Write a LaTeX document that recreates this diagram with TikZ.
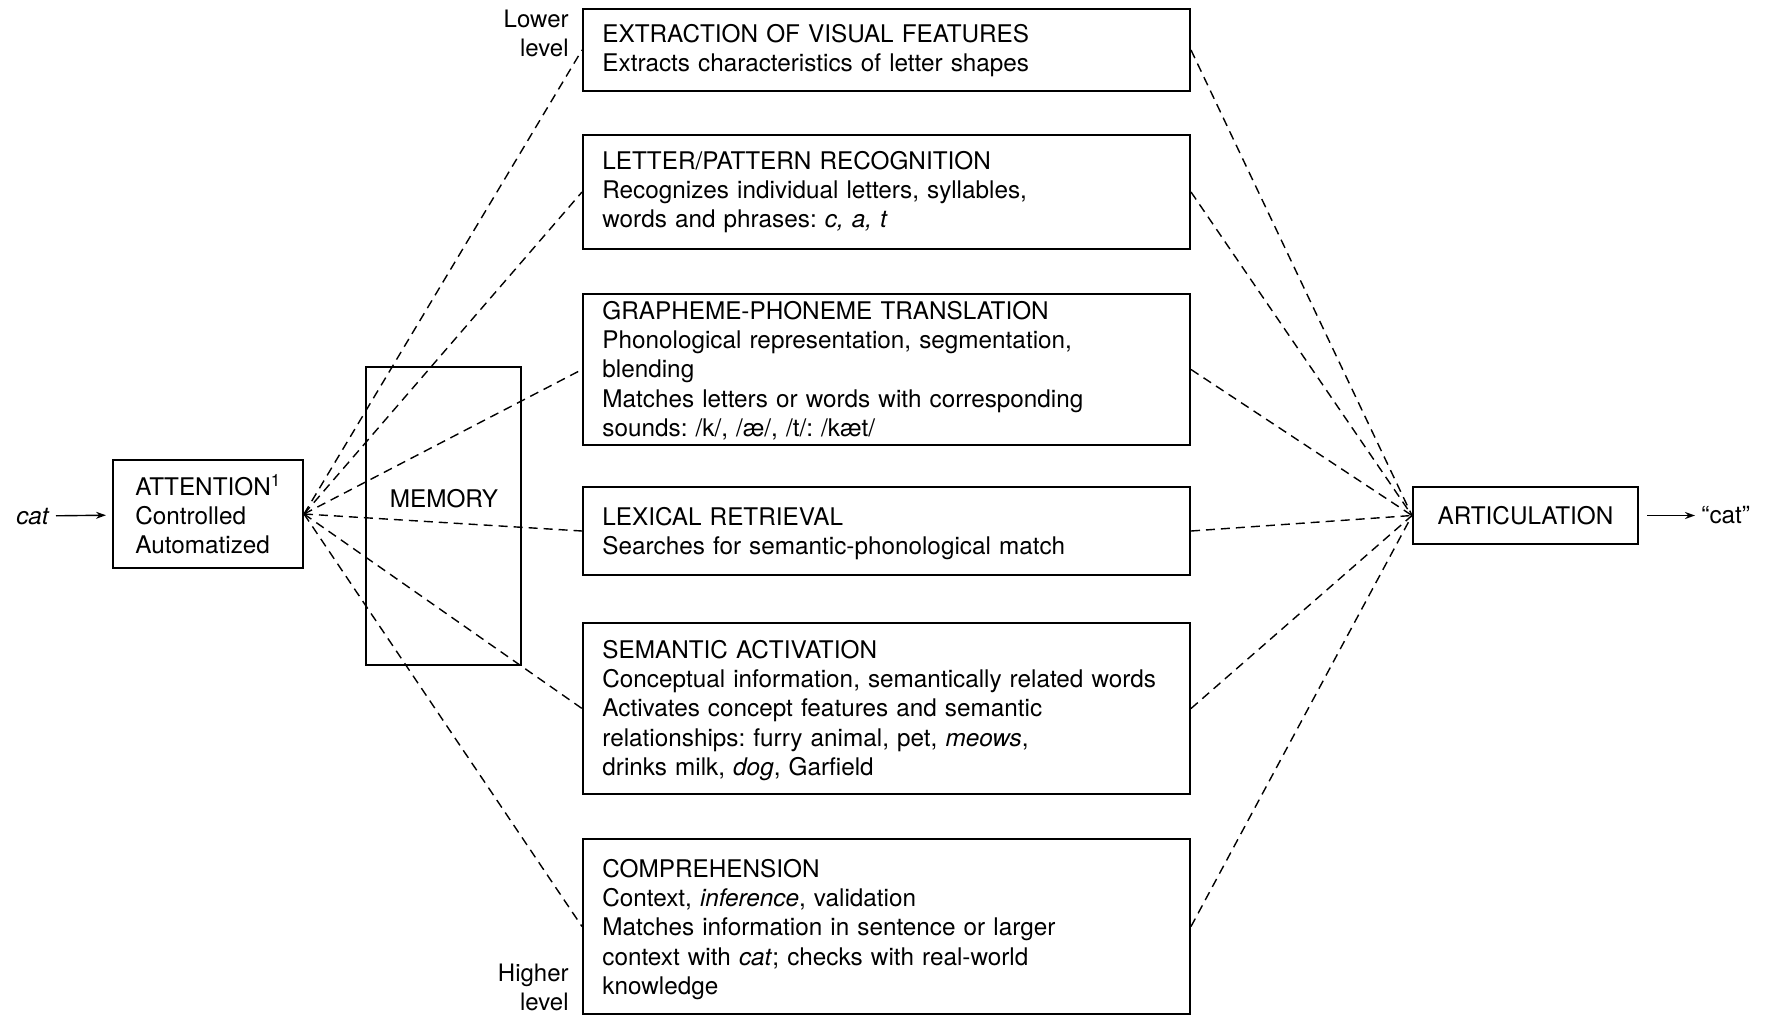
\documentclass[tikz,border=0pt]{standalone}
\usepackage{fontspec}
\setmainfont{TeX Gyre Heros}
\usetikzlibrary{fit,arrows.meta}
\begin{document}
\frenchspacing
\begin{tikzpicture}[x=0.5pt,y=-0.5pt,
  box/.style={draw,line width=1pt,inner sep=0pt},
  txt/.style={font=\fontsize{12.15}{14.6}\selectfont,inner sep=0pt,align=left,text width=290pt,anchor=base west},
  lbl/.style={font=\fontsize{12.15}{14.6}\selectfont,inner sep=0pt},
  side/.style={font=\fontsize{12}{14.5}\selectfont,inner sep=0pt,align=right,text width=40pt,anchor=base east},
  conn/.style={line width=0.7pt,dash pattern=on 4.5pt off 3pt},
  arr/.style={line width=0.7pt,-{Stealth[length=5pt,width=3.5pt]}}]
\useasboundingbox (0,0) rectangle (1765,1017);

% stage boxes
\node[box, fit={(583,9) (1190,91)}] (b1) {};
\node[box, fit={(583,135) (1190,249)}] (b2) {};
\node[box, fit={(583,294) (1190,445)}] (b3) {};
\node[box, fit={(583,487) (1190,575)}] (b4) {};
\node[box, fit={(583,623) (1190,794)}] (b5) {};
\node[box, fit={(583,839) (1190,1014)}] (b6) {};

\node[txt] (t1) at (602,42.5) {EXTRACTION OF VISUAL FEATURES\\Extracts characteristics of letter shapes};
\node[txt] (t2) at (602,169.5) {LETTER/PATTERN RECOGNITION\\Recognizes individual letters, syllables,\\words and phrases: \textit{c, a, t}};
\node[txt] (t3) at (602,319.5) {GRAPHEME-PHONEME TRANSLATION\\Phonological representation, segmentation,\\blending\\Matches letters or words with corresponding\\sounds: /k/, /æ/, /t/: /kæt/};
\node[txt] (t4) at (602,525.5) {LEXICAL RETRIEVAL\\Searches for semantic-phonological match};
\node[txt] (t5) at (602,658.5) {SEMANTIC ACTIVATION\\Conceptual information, semantically related words\\Activates concept features and semantic\\relationships: furry animal, pet, \textit{meows},\\drinks milk, \textit{dog}, Garfield};
\node[txt] (t6) at (602,877.5) {COMPREHENSION\\Context, \textit{inference}, validation\\Matches information in sentence or larger\\context with \textit{cat}; checks with real-world\\knowledge};

\node[side] (lower) at (569,27.5) {Lower\\level};
\node[side] (higher) at (569,981.5) {Higher\\level};

% memory
\node[box, fit={(366,367) (521,665)}] (mem) {};
\node[lbl] (memt) at (444,499) {MEMORY};

% attention
\node[box, fit={(113,460) (303,568)}] (att) {};
\node[txt, text width=80pt] (attt) at (135,495.5) {ATTENTION\textsuperscript{1}\\Controlled\\Automatized};

% input
\node[lbl, inner sep=3pt, anchor=base east] (cat) at (56,524) {\textit{cat}};
\draw[arr, shorten >=3pt] (cat) -- (att);

% articulation
\node[box, fit={(1413,487) (1638,544)}] (art) {};
\node[lbl] (artt) at (1525.5,515.5) {ARTICULATION};
\node[lbl, inner sep=3pt, anchor=west] (out) at (1695,515.5) {``cat''};
\draw[arr, shorten <=4pt] (art) -- (out);

% connectors
\foreach \b in {b1,b2,b3,b4,b5,b6}{
  \draw[conn] (att.east) -- (\b.west);
  \draw[conn] (\b.east) -- (art.west);
}
\end{tikzpicture}
\end{document}
